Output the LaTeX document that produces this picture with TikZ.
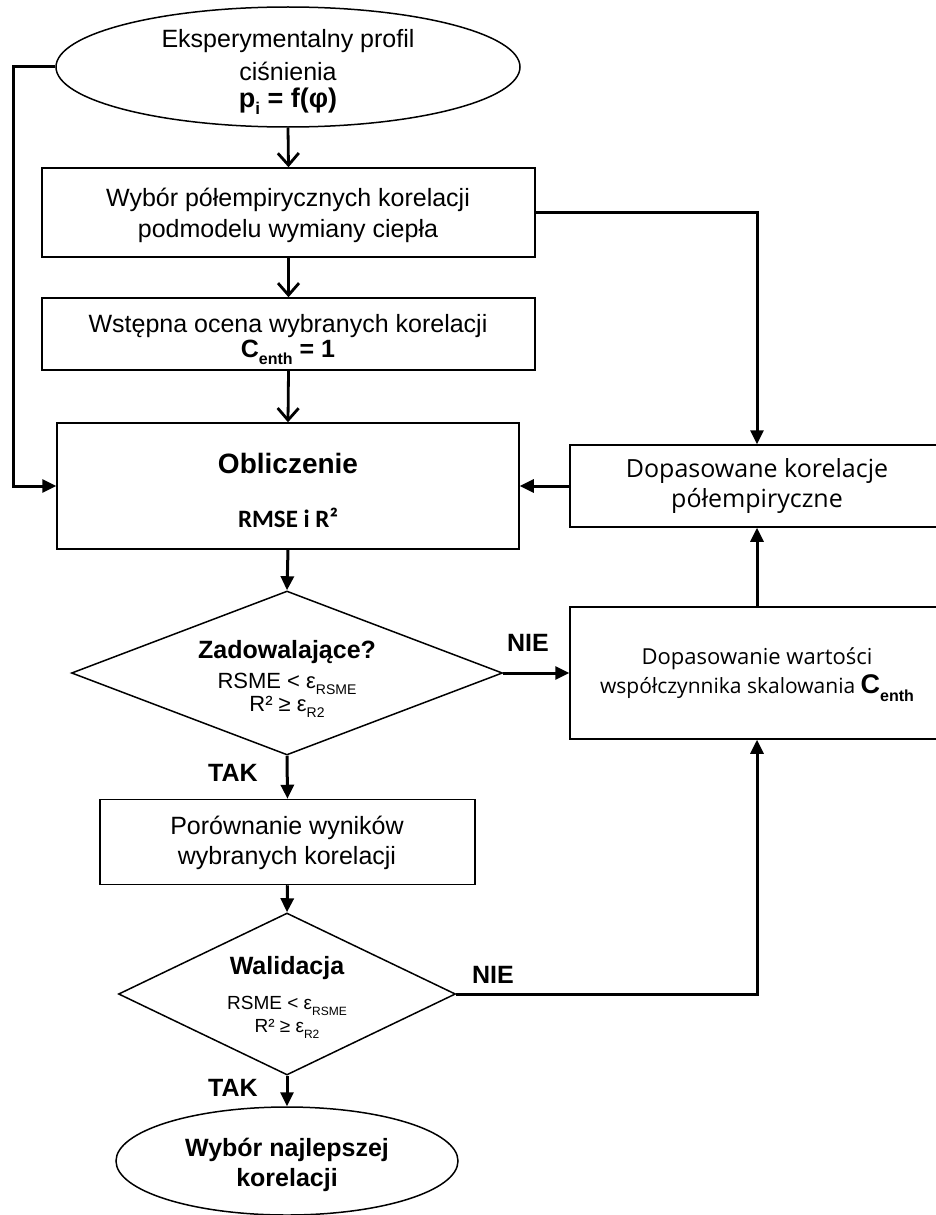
\documentclass[tikz,border=0pt]{standalone}
\usepackage{fontspec}
\setmainfont{Liberation Sans}
\newfontfamily\osans{Open Sans}
\newfontfamily\carl{Carlito}
\usetikzlibrary{shapes.geometric,arrows.meta}
\newcommand\sbx[2]{\raisebox{-0.28em}{\fontsize{#1}{#1}\selectfont #2}}
\begin{document}
\begin{tikzpicture}[x=1pt,y=-1pt,
  box/.style={draw, line width=1.5pt, rectangle, inner sep=0pt},
  shp/.style={draw, line width=1.5pt, inner sep=0pt},
  txt/.style={inner sep=0pt, font=\fontsize{25}{30}\selectfont},
  btxt/.style={inner sep=0pt, font=\bfseries\fontsize{25}{30}\selectfont},
  stxt/.style={inner sep=0pt, font=\fontsize{22}{26}\selectfont},
  otxt/.style={inner sep=0pt, font=\osans\fontsize{25}{29}\selectfont},
  oxt/.style={inner sep=0pt, font=\osans\fontsize{22}{26}\selectfont},
  conn/.style={line width=3pt, -{Triangle[length=14pt,width=13pt]}},
  vconn/.style={line width=2.8pt, -{Straight Barb[length=12pt,width=21pt]}}]
\useasboundingbox (0,0) rectangle (936,1215);
\clip (0,0) rectangle (936,1215);

% top ellipse
\node[shp, ellipse, minimum width=464pt, minimum height=120pt] (e1) at (288,67) {};
\node[txt] (e1a) at (288,41) {Eksperymentalny profil};
\node[txt] (e1b) at (288,71) {ciśnienia};
\node[inner sep=0pt, font=\bfseries\fontsize{27}{30}\selectfont] (e1c) at (288,101) {p\sbx{17}{i} = f(φ)};

% box 1
\node[box, minimum width=493pt, minimum height=89pt] (b1) at (288.5,212.5) {};
\node[txt] (b1a) at (288,200) {Wybór półempirycznych korelacji};
\node[txt] (b1b) at (288,231) {podmodelu wymiany ciepła};

% box 2
\node[box, minimum width=493pt, minimum height=72pt] (b2) at (288.5,334) {};
\node[txt] (b2a) at (288,326) {Wstępna ocena wybranych korelacji};
\node[btxt] (b2b) at (288,352) {C\sbx{16}{enth} = 1};

% box 3
\node[box, minimum width=462pt, minimum height=126pt] (b3) at (288,486) {};
\node[inner sep=0pt, font=\bfseries\fontsize{28}{32}\selectfont] (b3a) at (288,463) {Obliczenie};
\node[inner sep=0pt, font=\carl\bfseries\fontsize{25}{28}\selectfont] (b3b) at (288,518) {RMSE i R²};

% diamond 1
\node[shp, diamond, minimum width=431pt, minimum height=164pt] (d1) at (287,673) {};
\node[btxt] (d1a) at (287,652) {Zadowalające?};
\node[stxt] (d1b) at (287,684) {RSME < ε\sbx{14}{RSME}};
\node[stxt] (d1c) at (287,707) {R² ≥ ε\sbx{14}{R2}};
\node[btxt] (nie1) at (528,643) {NIE};
\node[btxt] (tak1) at (233,773) {TAK};

% right boxes
\node[box, minimum width=374pt, minimum height=82pt] (r1) at (757,486) {};
\node[otxt] (r1a) at (757,471) {Dopasowane korelacje};
\node[otxt] (r1b) at (757,501) {półempiryczne};

\node[box, minimum width=374pt, minimum height=132pt] (r2) at (757,673) {};
\node[oxt] (r2a) at (757,659) {Dopasowanie wartości};
\node[inner sep=0pt, font=\osans\fontsize{21}{25}\selectfont] (r2b) at (757,688) {współczynnika skalowania {\rmfamily\bfseries\fontsize{27}{27}\selectfont C\sbx{16}{enth}}};

% box 4
\node[box, minimum width=375pt, minimum height=85pt] (b4) at (287.5,842) {};
\node[txt] (b4a) at (287,828) {Porównanie wyników};
\node[txt] (b4b) at (287,858) {wybranych korelacji};

% diamond 2
\node[shp, diamond, minimum width=337pt, minimum height=162pt] (d2) at (287,994) {};
\node[btxt] (d2a) at (287,968) {Walidacja};
\node[inner sep=0pt, font=\fontsize{19}{23}\selectfont] (d2b) at (287,1006) {RSME < ε\sbx{12}{RSME}};
\node[inner sep=0pt, font=\fontsize{19}{23}\selectfont] (d2c) at (287,1029) {R² ≥ ε\sbx{12}{R2}};
\node[btxt] (nie2) at (493,975) {NIE};
\node[btxt] (tak2) at (233,1088) {TAK};

% bottom ellipse
\node[shp, ellipse, minimum width=342pt, minimum height=108pt] (e2) at (287,1161) {};
\node[btxt] (e2a) at (287,1150) {Wybór najlepszej};
\node[btxt] (e2b) at (287,1180) {korelacji};

% connectors
\coordinate (lft) at (13,0);
\draw[vconn] (e1.south) -- (b1.north);
\draw[vconn] (b1.south) -- (b2.north);
\draw[vconn] (b2.south) -- (b3.north);
\draw[conn] (e1.west) -- (e1.west -| lft) |- (b3.west);
\draw[conn] (b1.east) -| (r1.north);
\draw[conn] (r1.west) -- (b3.east);
\draw[conn] (b3.south) -- (d1.north);
\draw[conn] (d1.east) -- (r2.west);
\draw[conn] (r2.north) -- (r1.south);
\draw[conn] (d1.south) -- (b4.north);
\draw[conn] (b4.south) -- (d2.north);
\draw[conn] (d2.east) -| (r2.south);
\draw[conn] (d2.south) -- (e2.north);
\end{tikzpicture}
\end{document}
